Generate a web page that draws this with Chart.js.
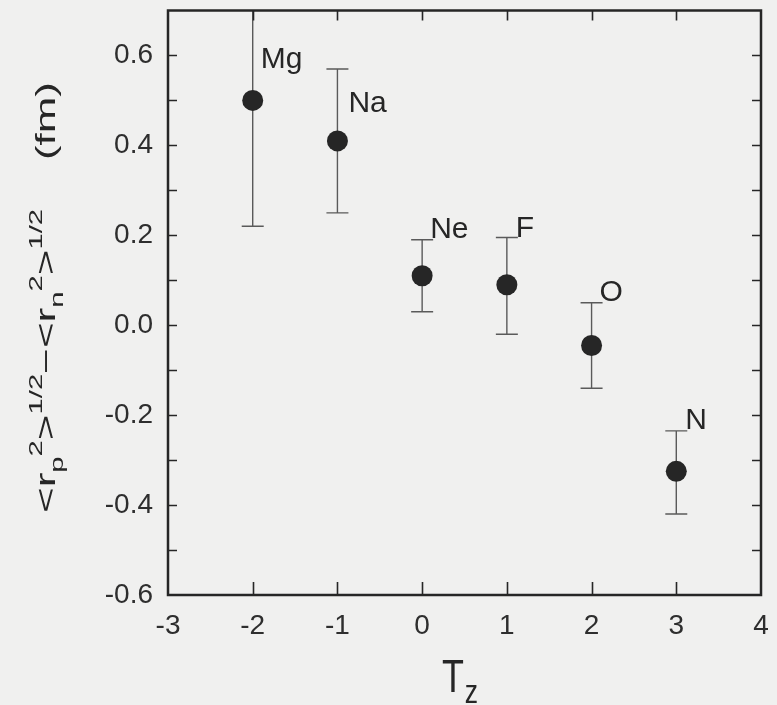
<!DOCTYPE html>
<html>
<head>
<meta charset="utf-8">
<script src="https://cdn.jsdelivr.net/npm/chart.js@4"></script>
<style>
  html, body { margin: 0; padding: 0; background: #f0f0ef; }
  #wrap { width: 777px; height: 705px; }
</style>
</head>
<body>
<div id="wrap"><canvas id="chart" width="777" height="705"></canvas></div>
<script>
// T_z of each nucleus and the measured radius difference (fm)
const tz = [-2, -1, 0, 1, 2, 3];
const radiusDiff = [0.50, 0.41, 0.11, 0.09, -0.045, -0.325];
const errLow = [0.22, 0.25, 0.03, -0.02, -0.14, -0.42];
const errHigh = [0.78, 0.57, 0.19, 0.195, 0.05, -0.235];
const nuclei = ['Mg', 'Na', 'Ne', 'F', 'O', 'N'];

// label offsets from the marker, px
const labelOffset = [[8, -32], [11, -29], [8, -38], [9, -48], [8, -44], [9, -42]];

const FONT = "'Liberation Sans', Arial, sans-serif";
const INK = '#262626';

const errorBars = {
    id: 'errorBars',
    beforeDatasetsDraw(chart) {
        const {ctx, chartArea, scales} = chart;
        ctx.save();
        ctx.beginPath();
        ctx.rect(chartArea.left, chartArea.top, chartArea.right - chartArea.left, chartArea.bottom - chartArea.top);
        ctx.clip();
        ctx.strokeStyle = '#5a5a5a';
        ctx.lineWidth = 1.4;
        tz.forEach((t, i) => {
            const x = scales.x.getPixelForValue(t);
            const yl = scales.y.getPixelForValue(errLow[i]);
            const yh = scales.y.getPixelForValue(errHigh[i]);
            ctx.beginPath();
            ctx.moveTo(x, yl); ctx.lineTo(x, yh);
            ctx.moveTo(x - 11, yl); ctx.lineTo(x + 11, yl);
            ctx.moveTo(x - 11, yh); ctx.lineTo(x + 11, yh);
            ctx.stroke();
        });
        ctx.restore();
    }
};

const decorations = {
    id: 'decorations',
    afterDraw(chart) {
        const {ctx, chartArea, scales} = chart;
        const {left, right, top, bottom} = chartArea;
        ctx.save();
        ctx.strokeStyle = INK;

        // ticks pointing inward on all four sides
        ctx.lineWidth = 1.6;
        ctx.beginPath();
        scales.y.ticks.forEach(t => {
            const py = Math.round(scales.y.getPixelForValue(t.value)) + 0.5;
            if (py <= top + 2 || py >= bottom - 2) return;
            ctx.moveTo(left, py); ctx.lineTo(left + 9, py);
            ctx.moveTo(right, py); ctx.lineTo(right - 9, py);
        });
        scales.x.ticks.forEach(t => {
            const px = Math.round(scales.x.getPixelForValue(t.value)) + 0.5;
            if (px <= left + 2 || px >= right - 2) return;
            ctx.moveTo(px, bottom); ctx.lineTo(px, bottom - 13);
            ctx.moveTo(px, top); ctx.lineTo(px, top + 10);
        });
        ctx.stroke();

        // frame
        ctx.lineWidth = 2.5;
        ctx.strokeRect(left, top, right - left, bottom - top);

        // nucleus labels
        ctx.fillStyle = INK;
        ctx.font = '30px ' + FONT;
        ctx.textBaseline = 'alphabetic';
        nuclei.forEach((name, i) => {
            const px = scales.x.getPixelForValue(tz[i]);
            const py = scales.y.getPixelForValue(radiusDiff[i]);
            ctx.fillText(name, px + labelOffset[i][0], py + labelOffset[i][1]);
        });

        // x title: T_z
        ctx.save();
        ctx.translate(442, 692);
        ctx.scale(0.78, 1);
        ctx.font = '46px ' + FONT;
        ctx.fillText('T', 0, 0);
        const tw = ctx.measureText('T').width;
        ctx.font = '34px ' + FONT;
        ctx.fillText('z', tw + 1, 11);
        ctx.restore();

        // y title with sub/superscripts, drawn rotated
        const big = 27, small = 18;
        const parts = [
            ['<r', big, 0], ['p', small, 8], ['2', small, -13], ['>', big, 0], ['1/2', small, -13],
            ['\u2212', big, 0], ['<r', big, 0], ['n', small, 8], ['2', small, -13], ['>', big, 0], ['1/2', small, -13],
            ['    ', big, 0], ['(fm)', big, 0]
        ];
        let total = 0;
        parts.forEach(p => { ctx.font = p[1] + 'px ' + FONT; total += ctx.measureText(p[0]).width; });
        const spanStart = 513, spanEnd = 82;
        const stretch = (spanStart - spanEnd) / total;
        ctx.translate(55, spanStart);
        ctx.rotate(-Math.PI / 2);
        ctx.scale(stretch, 1);
        let x = 0;
        parts.forEach(p => {
            ctx.font = p[1] + 'px ' + FONT;
            ctx.fillText(p[0], x, p[2]);
            x += ctx.measureText(p[0]).width;
        });
        ctx.restore();
    }
};

new Chart(document.getElementById('chart'), {
    type: 'scatter',
    data: {
        datasets: [{
            data: tz.map((t, i) => ({x: t, y: radiusDiff[i]})),
            backgroundColor: INK,
            borderWidth: 0,
            pointRadius: 10.5,
            pointHoverRadius: 10.5
        }]
    },
    options: {
        responsive: false,
        devicePixelRatio: 1,
        animation: false,
        layout: {padding: {top: 10, right: 16, left: 0, bottom: 0}},
        plugins: {legend: {display: false}, tooltip: {enabled: false}},
        scales: {
            x: {
                type: 'linear', min: -3, max: 4,
                grid: {display: false, drawTicks: false},
                border: {display: false},
                ticks: {
                    stepSize: 1, padding: 14, color: '#2e2e2e',
                    font: {family: FONT, size: 28},
                    maxRotation: 0
                },
                afterFit: s => { s.height = 110; s.paddingLeft = 0; s.paddingRight = 0; }
            },
            y: {
                type: 'linear', min: -0.6, max: 0.7,
                grid: {display: false, drawTicks: false},
                border: {display: false},
                ticks: {
                    stepSize: 0.1, padding: 15, color: '#2e2e2e',
                    font: {family: FONT, size: 28},
                    autoSkip: false,
                    callback: v => {
                        const k = Math.round(v * 10);
                        if (k % 2 !== 0 || k > 6) return '';
                        return (k / 10).toFixed(1);
                    }
                },
                afterFit: s => { s.width = 168; s.paddingTop = 0; s.paddingBottom = 0; }
            }
        }
    },
    plugins: [errorBars, decorations]
});
</script>
</body>
</html>
